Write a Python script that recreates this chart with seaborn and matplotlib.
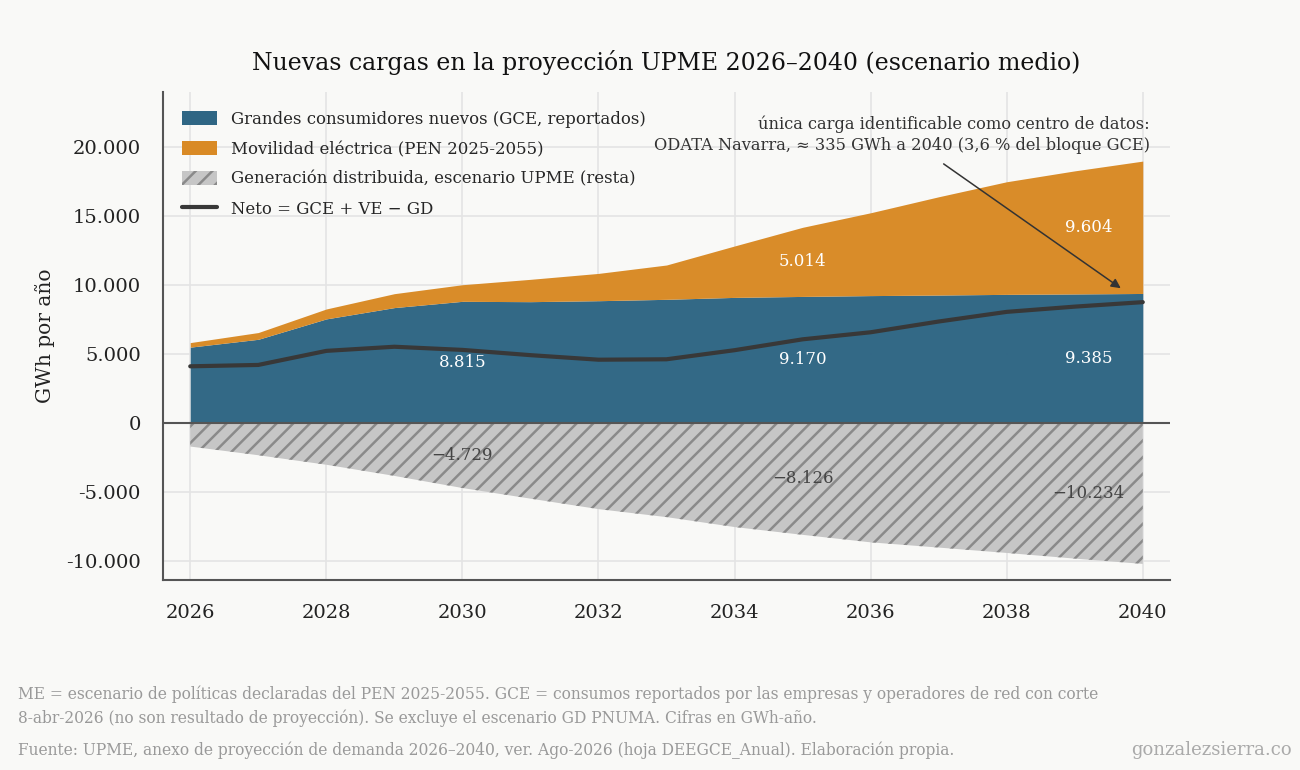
import matplotlib
matplotlib.use("Agg")
import matplotlib.pyplot as plt
import seaborn as sns
import numpy as np
import pandas as pd
from matplotlib.patches import Patch
from matplotlib.lines import Line2D
from matplotlib.ticker import FuncFormatter

# ---------------- data ----------------
years = [2026, 2027, 2028, 2029, 2030, 2031, 2032, 2033, 2034, 2035, 2036, 2037, 2038, 2039, 2040]
gce = [5490, 6060, 7540, 8360, 8815, 8790, 8860, 8960, 9100, 9170, 9230, 9270, 9320, 9350, 9385]
ve = [330, 490, 720, 1010, 1205, 1620, 1980, 2490, 3730, 5014, 6010, 7130, 8170, 8930, 9604]
gd = [-1720, -2350, -3040, -3850, -4729, -5500, -6260, -6840, -7560, -8126, -8670, -9050, -9440, -9850, -10234]

gce_label_years = [2030, 2035, 2040]
ve_label_years = [2035, 2040]
gd_label_years = [2030, 2035, 2040]
xticks = [2026, 2028, 2030, 2032, 2034, 2036, 2038, 2040]
yticks = [-10000, -5000, 0, 5000, 10000, 15000, 20000]

title = "Nuevas cargas en la proyección UPME 2026–2040 (escenario medio)"
ylabel = "GWh por año"
legend_labels = ["Grandes consumidores nuevos (GCE, reportados)",
                 "Movilidad eléctrica (PEN 2025-2055)",
                 "Generación distribuida, escenario UPME (resta)",
                 "Neto = GCE + VE − GD"]
annot_text = ("única carga identificable como centro de datos:\n"
              "ODATA Navarra, ≈ 335 GWh a 2040 (3,6 % del bloque GCE)")
note1 = ("ME = escenario de políticas declaradas del PEN 2025-2055. GCE = consumos reportados por las empresas y operadores de red con corte\n"
         "8-abr-2026 (no son resultado de proyección). Se excluye el escenario GD PNUMA. Cifras en GWh-año.")
note2 = "Fuente: UPME, anexo de proyección de demanda 2026–2040, ver. Ago-2026 (hoja DEEGCE_Anual). Elaboración propia."
brand = "gonzalezsierra.co"

df = pd.DataFrame({"year": years, "gce": gce, "ve": ve, "gd": gd})
df["top"] = df["gce"] + df["ve"]
df["neto"] = df["gce"] + df["ve"] + df["gd"]

# ---------------- style ----------------
BG = "#f9f9f7"
BLUE = "#2f6684"
ORANGE = "#d98a25"
GREY = "#c6c6c6"
DARK = "#383838"

sns.set_theme(style="whitegrid")
plt.rcParams["font.family"] = ["DejaVu Serif", "DejaVu Sans"]
plt.rcParams["hatch.color"] = "#8a8a8a"
plt.rcParams["hatch.linewidth"] = 1.8

fig = plt.figure(figsize=(13, 7.7), dpi=100, facecolor=BG)
ax = fig.add_axes([0.1254, 0.2468, 0.7746, 0.6337])
ax.set_facecolor(BG)

x = df["year"].to_numpy()
ax.fill_between(x, 0, df["gce"], color=BLUE, lw=0, alpha=0.98, zorder=2)
ax.fill_between(x, df["gce"], df["top"], color=ORANGE, lw=0, alpha=0.98, zorder=2)
ax.fill_between(x, df["gd"], 0, facecolor=GREY, edgecolor="#8a8a8a", hatch="//", lw=0, zorder=2)
sns.lineplot(data=df, x="year", y="neto", color=DARK, lw=3.0, ax=ax, zorder=4)
ax.axhline(0, color="#555555", lw=1.5, zorder=3)

def fmt(v):
    return f"{int(round(v)):,}".replace(",", ".")

def lx(yv):
    return yv if yv != 2040 else 2039.2

for yv in gce_label_years:
    r = df[df["year"] == yv].iloc[0]
    ax.text(lx(yv), r["gce"] / 2, fmt(r["gce"]), ha="center", va="center",
            color="white", fontsize=12, zorder=5)
for yv in ve_label_years:
    r = df[df["year"] == yv].iloc[0]
    ax.text(lx(yv), r["gce"] + r["ve"] / 2, fmt(r["ve"]), ha="center", va="center",
            color="white", fontsize=12, zorder=5)
for yv in gd_label_years:
    r = df[df["year"] == yv].iloc[0]
    ax.text(lx(yv), r["gd"] / 2, "−" + fmt(-r["gd"]), ha="center", va="center",
            color="#444444", fontsize=12, zorder=5)

# annotation
ax.text(2040.1, 20900, annot_text, ha="right", va="center", fontsize=11.7, color="#333333",
        linespacing=1.25, zorder=6)
ax.annotate("", xy=(2039.71, 9650), xytext=(2037.04, 18900),
            arrowprops=dict(arrowstyle="-|>", color="#333333", lw=1.1, mutation_scale=14), zorder=6)

# axes
ax.set_xlim(2025.6, 2040.4)
ax.set_ylim(-11400, 24000)
ax.set_xticks(xticks)
ax.set_yticks(yticks)
ax.yaxis.set_major_formatter(FuncFormatter(lambda v, p: f"{int(v):,}".replace(",", ".")))
ax.tick_params(axis="both", labelsize=14, colors="#222222", length=7, width=1.3, direction="out",
               color="#555555")
ax.tick_params(axis="x", pad=10)
ax.tick_params(axis="y", pad=9)
ax.grid(True, color="#e4e4e4", lw=1.2)
for s in ["top", "right"]:
    ax.spines[s].set_visible(False)
for s in ["left", "bottom"]:
    ax.spines[s].set_color("#555555")
    ax.spines[s].set_linewidth(1.5)
ax.set_xlabel("")
ax.set_ylabel(ylabel, fontsize=14.5, color="#222222", labelpad=8)
ax.set_title(title, fontsize=17, color="#111111", pad=16)

handles = [Patch(facecolor=BLUE, edgecolor="none"),
           Patch(facecolor=ORANGE, edgecolor="none"),
           Patch(facecolor=GREY, edgecolor="#8a8a8a", hatch="//", lw=0),
           Line2D([0], [0], color=DARK, lw=3.0)]
leg = ax.legend(handles, legend_labels, loc="upper left", frameon=False, fontsize=11.9,
                bbox_to_anchor=(0.0, 1.0), handlelength=2.1, handleheight=0.9, handletextpad=0.85,
                labelspacing=0.78, borderaxespad=0.75)

fig.text(0.0138, 0.0831, note1, ha="left", va="center", fontsize=11.2, color="#999999", linespacing=1.45)
fig.text(0.0138, 0.026, note2, ha="left", va="center", fontsize=11.2, color="#999999")
fig.text(0.994, 0.026, brand, ha="right", va="center", fontsize=13, color="#aaaaaa")

fig.savefig("out.png", dpi=100, facecolor=BG)
